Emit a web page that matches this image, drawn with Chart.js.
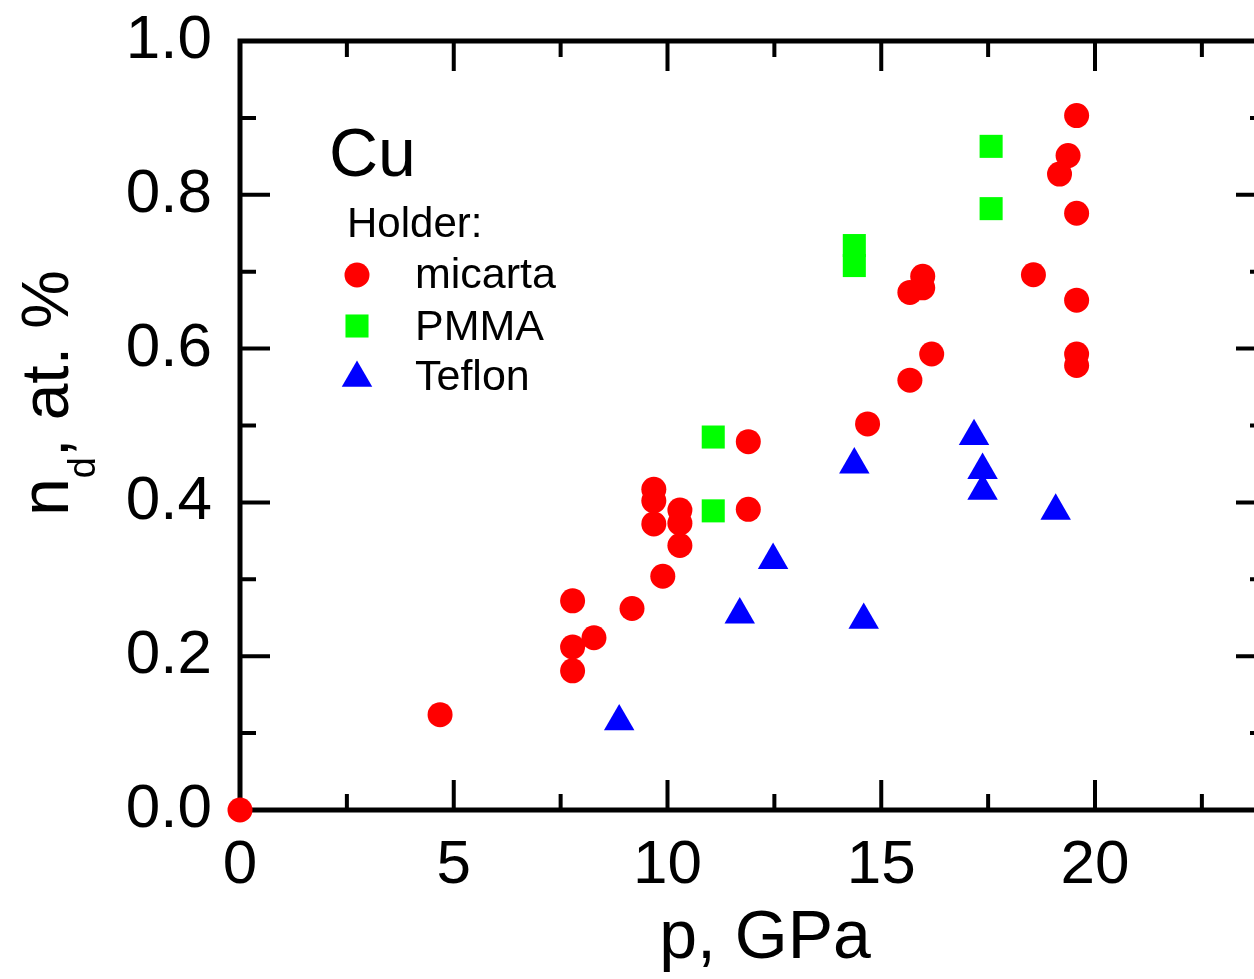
<!DOCTYPE html>
<html>
<head>
<meta charset="utf-8">
<script src="https://cdn.jsdelivr.net/npm/chart.js@4/dist/chart.umd.min.js"></script>
<style>
  html, body { margin: 0; padding: 0; background: #fff; overflow: hidden; }
  #wrap { width: 1300px; height: 979px; }
</style>
</head>
<body>
<div id="wrap"><canvas id="c" width="1300" height="979"></canvas></div>
<script>
// ---- data ----
const xTicks = [0, 5, 10, 15, 20];
const xMinorTicks = [2.5, 7.5, 12.5, 17.5, 22.5];
const yTicks = [0, 0.2, 0.4, 0.6, 0.8, 1.0];
const yMinorTicks = [0.1, 0.3, 0.5, 0.7, 0.9];

const micartaP = [0, 4.68, 7.78, 7.78, 7.78, 8.28, 9.17, 9.89, 9.68, 9.68, 9.68, 10.29, 10.29, 10.29, 11.89, 11.89, 14.68, 15.67, 16.18, 15.67, 15.97, 15.97, 18.56, 19.57, 19.37, 19.17, 19.57, 19.57, 19.57, 19.57];
const micartaN = [0, 0.124, 0.272, 0.212, 0.181, 0.224, 0.262, 0.304, 0.417, 0.402, 0.372, 0.390, 0.373, 0.344, 0.479, 0.391, 0.502, 0.559, 0.593, 0.673, 0.679, 0.694, 0.696, 0.903, 0.851, 0.827, 0.776, 0.663, 0.593, 0.578];
const pmmaP = [11.07, 11.07, 14.37, 14.37, 17.57, 17.57];
const pmmaN = [0.485, 0.389, 0.734, 0.708, 0.863, 0.782];
const teflonP = [8.87, 11.69, 12.47, 14.37, 14.59, 17.17, 17.37, 17.37, 19.08];
const teflonN = [0.115, 0.254, 0.325, 0.449, 0.247, 0.486, 0.442, 0.415, 0.389];

const seriesNames = ['micarta', 'PMMA', 'Teflon'];
const xTitle = 'p, GPa';
const panelLabel = 'Cu';
const legendHeader = 'Holder:';

const FONT = "'Liberation Sans', Arial, sans-serif";
const toPts = (xs, ys) => xs.map((x, i) => ({ x: x, y: ys[i] }));

const styles = [
  { color: '#ff0000', pointStyle: 'circle', radius: 12.5 },
  { color: '#00ff00', pointStyle: 'rect', radius: 16.3 },
  { color: '#0000ff', pointStyle: 'triangle', radius: 17.6 }
];

// frame + inward ticks
const framePlugin = {
  id: 'frame',
  beforeDatasetsDraw(chart) {
    const { ctx, chartArea: a, scales } = chart;
    const xs = scales.x, ys = scales.y;
    ctx.save();
    ctx.strokeStyle = '#000';
    ctx.lineCap = 'butt';
    ctx.lineWidth = 4;
    const majL = 30, minL = 16;
    const vTick = (v, len) => {
      const px = xs.getPixelForValue(v);
      ctx.beginPath();
      ctx.moveTo(px, a.bottom); ctx.lineTo(px, a.bottom - len);
      ctx.moveTo(px, a.top); ctx.lineTo(px, a.top + len);
      ctx.stroke();
    };
    const hTick = (v, len) => {
      const py = ys.getPixelForValue(v);
      ctx.beginPath();
      ctx.moveTo(a.left, py); ctx.lineTo(a.left + len, py);
      ctx.moveTo(a.right, py); ctx.lineTo(a.right - len, py);
      ctx.stroke();
    };
    xTicks.forEach(v => vTick(v, majL));
    xMinorTicks.forEach(v => vTick(v, minL));
    yTicks.forEach(v => hTick(v, majL));
    yMinorTicks.forEach(v => hTick(v, minL));
    ctx.lineWidth = 5;
    ctx.lineJoin = 'miter';
    ctx.strokeRect(a.left, a.top, a.right - a.left, a.bottom - a.top);
    ctx.restore();
  }
};

function drawMarker(ctx, st, x, y) {
  ctx.save();
  ctx.fillStyle = st.color;
  ctx.strokeStyle = st.color;
  if (Chart.helpers && Chart.helpers.drawPoint) {
    Chart.helpers.drawPoint(ctx, { pointStyle: st.pointStyle, radius: st.radius, rotation: 0, borderWidth: 0 }, x, y);
  }
  ctx.restore();
}

// titles and in-plot legend
const textPlugin = {
  id: 'texts',
  afterDraw(chart) {
    const { ctx, chartArea: a } = chart;
    ctx.save();
    ctx.fillStyle = '#000';
    ctx.textBaseline = 'alphabetic';

    // x axis title
    ctx.font = '68px ' + FONT;
    ctx.textAlign = 'center';
    ctx.fillText(xTitle, a.left + 525, 958);

    // y axis title: n_d, at. %
    ctx.save();
    ctx.translate(68, 516);
    ctx.rotate(-Math.PI / 2);
    ctx.textAlign = 'left';
    let x = 0;
    ctx.font = '68px ' + FONT;
    ctx.fillText('n', x, 0);
    x += ctx.measureText('n').width;
    ctx.font = '38px ' + FONT;
    ctx.fillText('d', x, 27);
    x += ctx.measureText('d').width;
    ctx.font = '66px ' + FONT;
    ctx.fillText(', at. %', x, 0);
    ctx.restore();

    // panel label & legend
    ctx.textAlign = 'left';
    ctx.font = '68px ' + FONT;
    ctx.fillText(panelLabel, 329, 176);
    ctx.font = '42px ' + FONT;
    ctx.fillText(legendHeader, 347, 237);
    const rowsY = [275, 326, 378];
    const baseY = [288, 340, 390];
    ctx.font = '43px ' + FONT;
    seriesNames.forEach((name, i) => {
      drawMarker(ctx, styles[i], 357, rowsY[i]);
      ctx.fillStyle = '#000';
      ctx.fillText(name, 415, baseY[i]);
    });
    ctx.restore();
  }
};

const datasets = [
  { label: seriesNames[0], data: toPts(micartaP, micartaN) },
  { label: seriesNames[1], data: toPts(pmmaP, pmmaN) },
  { label: seriesNames[2], data: toPts(teflonP, teflonN) }
].map((d, i) => Object.assign(d, {
  backgroundColor: styles[i].color,
  borderColor: styles[i].color,
  borderWidth: 0,
  pointStyle: styles[i].pointStyle,
  pointRadius: styles[i].radius,
  pointHoverRadius: styles[i].radius,
  clip: false,
  showLine: false
}));

new Chart(document.getElementById('c'), {
  type: 'scatter',
  data: { datasets: datasets },
  options: {
    responsive: false,
    devicePixelRatio: 1,
    animation: false,
    events: [],
    layout: { padding: { left: 0, top: 41, right: 34, bottom: 0 } },
    plugins: { legend: { display: false }, tooltip: { enabled: false } },
    scales: {
      x: {
        type: 'linear', min: 0, max: 24,
        grid: { display: false, drawTicks: false },
        border: { display: false },
        afterBuildTicks: (s) => { s.ticks = xTicks.map(v => ({ value: v })); },
        afterFit: (s) => { s.height = 169; s.paddingLeft = 0; s.paddingRight = 0; },
        ticks: {
          color: '#000', padding: 19, maxRotation: 0, autoSkip: false,
          font: { family: FONT, size: 62 },
          callback: (v) => String(v)
        }
      },
      y: {
        type: 'linear', min: 0, max: 1,
        grid: { display: false, drawTicks: false },
        border: { display: false },
        afterBuildTicks: (s) => { s.ticks = yTicks.map(v => ({ value: v })); },
        afterFit: (s) => { s.width = 240; s.paddingTop = 0; s.paddingBottom = 0; },
        ticks: {
          color: '#000', padding: 28, autoSkip: false,
          font: { family: FONT, size: 62 },
          callback: (v) => Number(v).toFixed(1)
        }
      }
    }
  },
  plugins: [framePlugin, textPlugin]
});
</script>
</body>
</html>
